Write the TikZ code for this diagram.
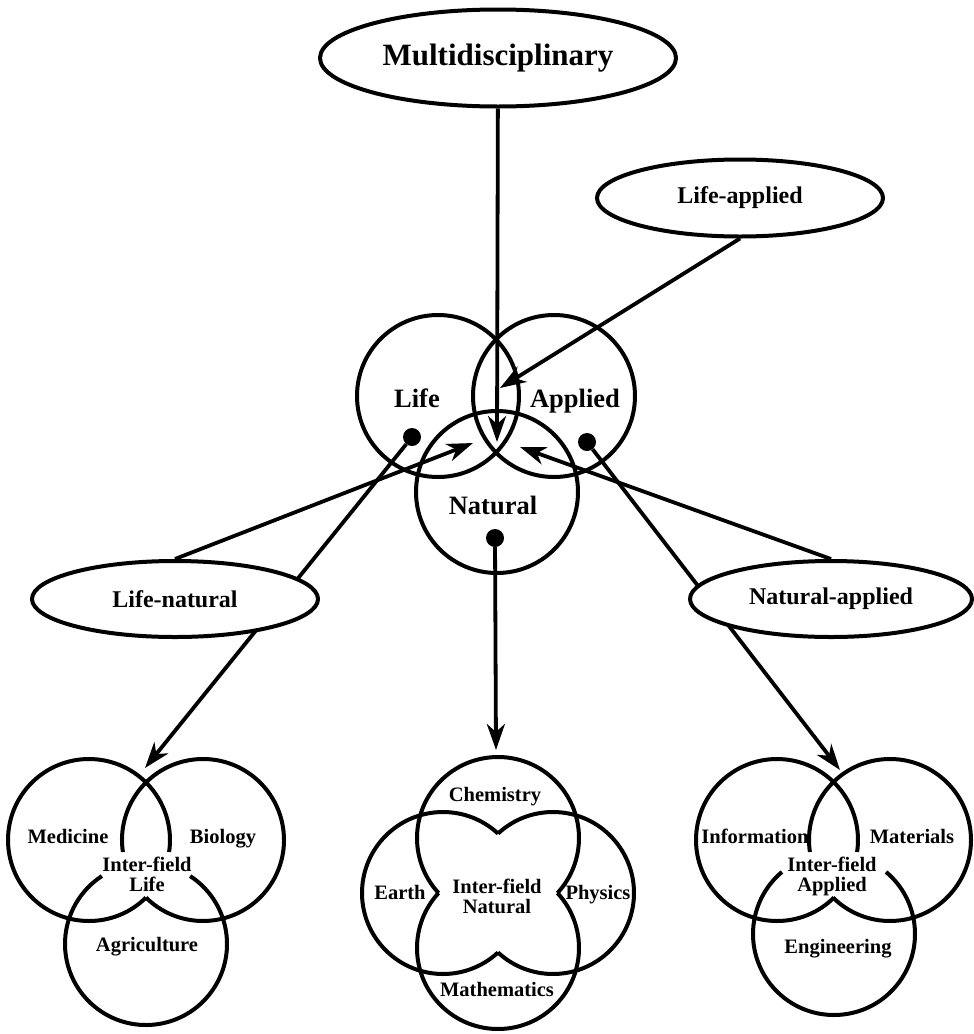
\documentclass[tikz,border=0pt]{standalone}
\usepackage{fontspec}
\setmainfont{Liberation Serif}
\usetikzlibrary{shapes.geometric, arrows.meta, backgrounds}

\begin{document}
\begin{tikzpicture}[x=1pt, y=-1pt,
  ring/.style={line width=4pt},
  bubble/.style={ellipse, draw, line width=4pt, fill=white, inner sep=0pt},
  arr/.style={line width=3.8pt, -{Stealth[length=26pt, width=18pt, inset=8pt]}},
  blob/.style={circle, fill=black, inner sep=0pt, minimum size=18pt},
  fieldtxt/.style={font=\fontsize{20.5}{20}\selectfont\bfseries, text height=13.6pt, text depth=0pt},
  intertxt/.style={font=\fontsize{20.5}{20}\selectfont\bfseries, align=center},
  circtxt/.style={font=\fontsize{26.5}{28}\selectfont\bfseries, text height=17.5pt, text depth=0pt},
  bubtxt/.style={font=\fontsize{24}{26}\selectfont\bfseries}]
\useasboundingbox (0,0) rectangle (974,1034);
% three fields
\draw[ring] (438,396) circle (81);
\draw[ring] (554,396) circle (81);
\draw[ring] (497,492) circle (81);
\node[circtxt] (life) at (417,399) {Life};
\node[circtxt] (applied) at (575,399) {Applied};
\node[circtxt] (natural) at (493,506) {Natural};
% ellipses
\node[bubble, font=\fontsize{31}{33}\selectfont\bfseries, minimum width=356pt, minimum height=97pt] (multi) at (498,58) {Multidisciplinary};
\node[bubble, bubtxt, minimum width=286pt, minimum height=77pt] (lifeapp) at (740,198) {Life-applied};
\node[bubble, bubtxt, minimum width=286pt, minimum height=76pt] (lifenat) at (175,599) {Life-natural};
\node[bubble, bubtxt, minimum width=282pt, minimum height=76pt] (natapp) at (831,599) {Natural-applied};
% dots
\node[blob] (dotL) at (412,437) {};
\node[blob] (dotA) at (587,442) {};
\node[blob] (dotN) at (495,538) {};
% tips
\coordinate (tipM) at (497,442);
\coordinate (tipLA) at (500,388);
\coordinate (tipLN) at (473,443);
\coordinate (tipNA) at (520,447);
\coordinate (tipL) at (145,768);
\coordinate (tipN) at (496,750);
\coordinate (tipA) at (840,770);
% arrows
\draw[arr] (multi) -- (tipM);
\draw[arr] (lifeapp.south) -- (tipLA);
\draw[arr] (lifenat.north) -- (tipLN);
\draw[arr] (natapp.north) -- (tipNA);
\draw[arr] (dotN) -- (tipN);
\begin{scope}[on background layer]
\draw[arr] (dotL) -- (tipL);
\draw[arr] (dotA) -- (tipA);
\end{scope}
% life venn
\draw[ring] (89,840) ++(45.3:81) arc[start angle=45.3, end angle=368.5, radius=81];
\draw[ring] (203,840) ++(-188.5:81) arc[start angle=-188.5, end angle=134.7, radius=81];
\draw[ring] (146,944) ++(-57:81) arc[start angle=-57, end angle=237, radius=81];
\node[fieldtxt] (med) at (68,837) {Medicine};
\node[fieldtxt] (bio) at (223,837) {Biology};
\node[intertxt] (ifl) at (147,874) {Inter-field\\Life};
\node[fieldtxt] (agr) at (147,945) {Agriculture};
% natural venn
\draw[ring] (498,838) ++(137.2:81) arc[start angle=137.2, end angle=402.8, radius=81];
\draw[ring] (553,893) ++(-132.8:81) arc[start angle=-132.8, end angle=132.8, radius=81];
\draw[ring] (498,948) ++(-42.8:81) arc[start angle=-42.8, end angle=222.8, radius=81];
\draw[ring] (443,893) ++(47.2:81) arc[start angle=47.2, end angle=312.8, radius=81];
\node[fieldtxt] (chem) at (495,795) {Chemistry};
\node[fieldtxt] (earth) at (400,893) {Earth};
\node[fieldtxt] (phys) at (598,893) {Physics};
\node[intertxt] (ifn) at (497,896) {Inter-field\\Natural};
\node[fieldtxt] (math) at (497,990) {Mathematics};
% applied venn
\draw[ring] (777,840) ++(45.3:81) arc[start angle=45.3, end angle=368.5, radius=81];
\draw[ring] (890,840) ++(-188.5:81) arc[start angle=-188.5, end angle=134.7, radius=81];
\draw[ring] (834,934) ++(-50:81) arc[start angle=-50, end angle=230, radius=81];
\node[fieldtxt] (info) at (755,837) {Information};
\node[fieldtxt] (mat) at (912,837) {Materials};
\node[intertxt] (ifa) at (832,876) {Inter-field\\Applied};
\node[fieldtxt] (eng) at (838,947) {Engineering};
\end{tikzpicture}
\end{document}
